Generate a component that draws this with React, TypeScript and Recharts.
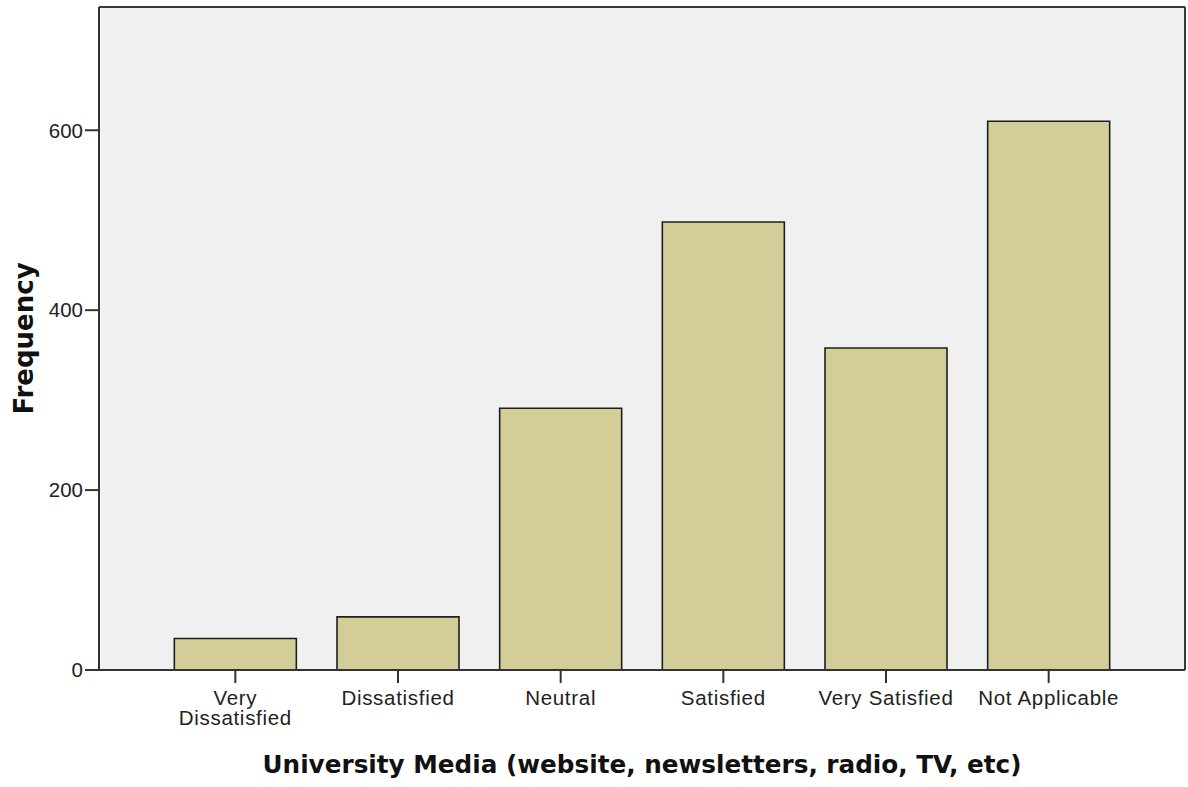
import React from "react";
import { BarChart, Bar, XAxis, YAxis, CartesianGrid, Label } from "recharts";

const categories = ["Very Dissatisfied", "Dissatisfied", "Neutral", "Satisfied", "Very Satisfied", "Not Applicable"];
const frequencies = [35, 59, 291, 498, 358, 610];
const yTicks = [0, 200, 400, 600];
const yMax = 737;
const xTitle = "University Media (website, newsletters, radio, TV, etc)";
const yTitle = "Frequency";

const data = categories.map((c, i) => ({ name: c, value: frequencies[i] }));

const TICK_FONT = "'Liberation Sans', Arial, sans-serif";
const TITLE_FONT = "'DejaVu Sans', Verdana, sans-serif";
const TICK_SIZE = 20.5;
const LETTER_SPACING = 0.7;
const WRAP_WIDTH = 148;

let measureCtx: CanvasRenderingContext2D | null = null;
function measure(s: string): number {
  if (!measureCtx) {
    const c = document.createElement("canvas");
    measureCtx = c.getContext("2d");
  }
  if (!measureCtx) return s.length * TICK_SIZE * 0.5;
  measureCtx.font = `${TICK_SIZE}px 'Liberation Sans', Arial, sans-serif`;
  return measureCtx.measureText(s).width + s.length * LETTER_SPACING;
}

function wrap(label: string): string[] {
  const words = label.split(" ");
  const lines: string[] = [];
  let cur = "";
  for (const w of words) {
    const cand = cur ? cur + " " + w : w;
    if (cur && measure(cand) > WRAP_WIDTH) {
      lines.push(cur);
      cur = w;
    } else {
      cur = cand;
    }
  }
  if (cur) lines.push(cur);
  return lines;
}

const XTick = (props: any) => {
  const { x, y, payload } = props;
  const lines = wrap(String(payload.value));
  return (
    <text
      x={x}
      y={y}
      textAnchor="middle"
      fontSize={TICK_SIZE}
      fill="#222"
      fontFamily={TICK_FONT}
      style={{ letterSpacing: `${LETTER_SPACING}px` }}
    >
      {lines.map((l, i) => (
        <tspan key={i} x={x} dy={i === 0 ? "0.71em" : 20}>
          {l}
        </tspan>
      ))}
    </text>
  );
};

export default function App() {
  return (
    <div style={{ position: "absolute", left: 0, top: 0, width: 1188, height: 787, background: "#fff" }}>
      <BarChart
        width={1188}
        height={787}
        data={data}
        margin={{ top: 7, right: 3, left: 0, bottom: 0 }}
        barCategoryGap="12.5%"
      >
        <CartesianGrid
          fill="#F0F0F0"
          stroke="#3a3a3a"
          strokeWidth={2}
          horizontalCoordinatesGenerator={({ offset }: any) => [offset.top, offset.top + offset.height]}
          verticalCoordinatesGenerator={({ offset }: any) => [offset.left, offset.left + offset.width]}
        />
        <XAxis
          dataKey="name"
          height={117}
          padding={{ left: 55, right: 55 }}
          tickSize={13}
          tickMargin={7}
          stroke="#333"
          strokeWidth={2}
          tick={<XTick />}
          interval={0}
        >
          <Label
            value={xTitle}
            position="insideBottom"
            offset={14}
            style={{ fontFamily: TITLE_FONT, fontWeight: "bold", fontSize: 24.7, fill: "#111" }}
          />
        </XAxis>
        <YAxis
          width={99}
          domain={[0, yMax]}
          ticks={yTicks}
          tickSize={14}
          tickMargin={2}
          stroke="#333"
          strokeWidth={2}
          tick={{ fontSize: TICK_SIZE, fill: "#222", fontFamily: TICK_FONT }}
          allowDataOverflow
        >
          <Label
            value={yTitle}
            angle={-90}
            position="insideLeft"
            offset={24}
            style={{ fontFamily: TITLE_FONT, fontWeight: "bold", fontSize: 26, fill: "#111", textAnchor: "middle" }}
          />
        </YAxis>
        <Bar dataKey="value" fill="#D3CE97" stroke="#1e1e1e" strokeWidth={1.6} isAnimationActive={false} />
      </BarChart>
    </div>
  );
}
